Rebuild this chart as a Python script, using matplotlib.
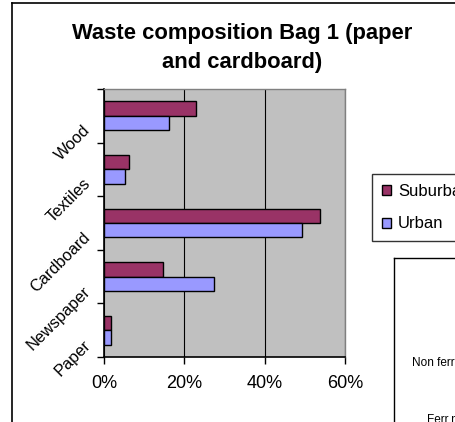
import matplotlib
matplotlib.use("Agg")
import matplotlib.pyplot as plt
from matplotlib.patches import Patch
from matplotlib.lines import Line2D
from matplotlib.transforms import ScaledTranslation

categories = ["Paper", "Newspaper", "Cardboard", "Textiles", "Wood"]
suburban = [1.8, 14.6, 53.9, 6.3, 22.9]
urban = [1.8, 27.3, 49.4, 5.2, 16.1]
x_ticks = [0, 20, 40, 60]
x_labels = ["0%", "20%", "40%", "60%"]

SUB_COLOR = "#993366"
URB_COLOR = "#9999FF"

plt.rcParams["font.family"] = ["Liberation Sans", "DejaVu Sans"]

W, H = 456, 422
fig = plt.figure(figsize=(W / 100, H / 100), dpi=100)
fig.patch.set_facecolor("white")


def fx(px):
    return px / W


def fy(py):
    return 1 - py / H


# outer chart frame (partly off-canvas)
fig.add_artist(Line2D([fx(12), fx(12)], [fy(3), fy(425)], color="black", lw=1.2))
fig.add_artist(Line2D([fx(12), fx(460)], [fy(3), fy(3)], color="black", lw=1.2))

ax = fig.add_axes([fx(104), fy(357), fx(345) - fx(104), fy(89) - fy(357)])
ax.set_facecolor("#C0C0C0")

pos = list(range(len(categories)))
h = 0.27
ax.barh([p + h / 2 for p in pos], suburban, height=h, color=SUB_COLOR,
        edgecolor="black", linewidth=1, zorder=3, label="Suburban")
ax.barh([p - h / 2 for p in pos], urban, height=h, color=URB_COLOR,
        edgecolor="black", linewidth=1, zorder=3, label="Urban")

ax.set_xlim(0, 60)
ax.set_ylim(-0.5, len(categories) - 0.5)
ax.set_xticks(x_ticks)
ax.set_xticklabels(x_labels, fontsize=13)
ax.xaxis.grid(True, color="black", lw=0.8, zorder=1)
ax.set_axisbelow(True)

# category boundaries get the tick marks, names sit rotated between them
ax.set_yticks([p - 0.5 for p in range(len(categories) + 1)])
ax.set_yticklabels([])
label_tf = ax.get_yaxis_transform() + ScaledTranslation(-0.16, -0.12, fig.dpi_scale_trans)
for p, cat in zip(pos, categories):
    ax.text(0, p, cat, transform=label_tf, fontsize=11.8, rotation=45,
            ha="right", va="center", rotation_mode="anchor")
ax.tick_params(axis="y", length=5, width=1)
ax.tick_params(axis="x", length=5, width=1, pad=8)

for s in ("top", "right"):
    ax.spines[s].set_color("#808080")
    ax.spines[s].set_linewidth(1)
for s in ("left", "bottom"):
    ax.spines[s].set_color("black")
    ax.spines[s].set_linewidth(1.2)

fig.text(fx(242), fy(48), "Waste composition Bag 1 (paper\nand cardboard)",
         ha="center", va="center", fontsize=15.8, fontweight="bold",
         linespacing=1.55)

handles = [Patch(facecolor=SUB_COLOR, edgecolor="black", label="Suburban"),
           Patch(facecolor=URB_COLOR, edgecolor="black", label="Urban")]
leg = fig.legend(handles=handles, loc="upper left",
                 bbox_to_anchor=(fx(372), fy(174)), fontsize=12,
                 frameon=True, fancybox=False, edgecolor="black",
                 handlelength=0.55, handleheight=0.55, handletextpad=0.4,
                 labelspacing=1.05, borderpad=0.6, borderaxespad=0)
leg.get_frame().set_linewidth(1)

# neighbouring chart frame, cut off by the crop
fig.add_artist(Line2D([fx(394), fx(394)], [fy(258), fy(425)], color="black", lw=1))
fig.add_artist(Line2D([fx(394), fx(460)], [fy(258), fy(258)], color="black", lw=1))
fig.text(fx(412), fy(363), "Non ferrous", fontsize=8.5, ha="left", va="center")
fig.text(fx(427), fy(420), "Ferr.metal", fontsize=8.5, ha="left", va="center")

fig.savefig("out.png", dpi=100)
